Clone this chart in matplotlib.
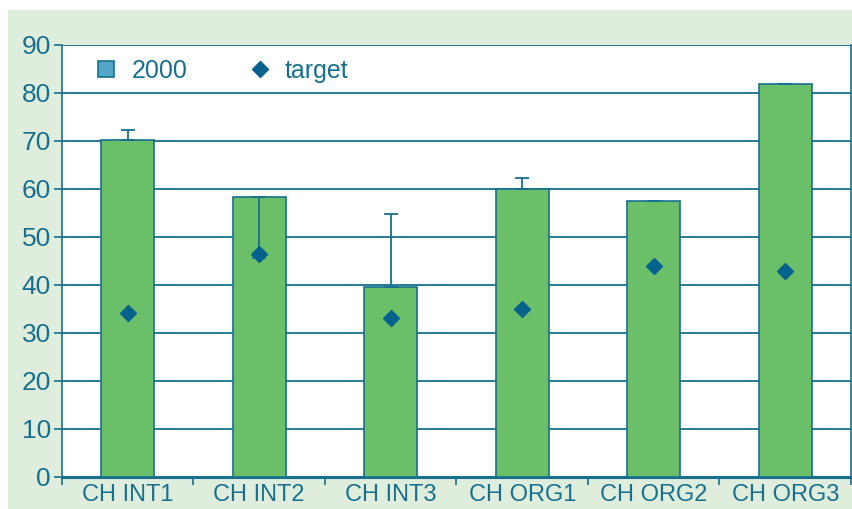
import matplotlib
matplotlib.use('Agg')
import matplotlib.pyplot as plt
import matplotlib.patches as patches
from matplotlib.lines import Line2D
import numpy as np

# data
categories = ['CH INT1', 'CH INT2', 'CH INT3', 'CH ORG1', 'CH ORG2', 'CH ORG3']
values_2000 = [70.2, 58.3, 39.6, 60.0, 57.5, 81.9]
err_lower = [0, 12.7, 0, 0, 0, 0]
err_upper = [2.1, 0, 15.1, 2.3, 0, 0]
target = [34.1, 46.5, 33.1, 35.0, 44.0, 42.9]
y_ticks = [0, 10, 20, 30, 40, 50, 60, 70, 80, 90]

teal = '#17708f'
green = '#6bbf68'
legend_blue = '#55a6c6'
diamond = '#04628c'
panel = '#dfeddc'

plt.rcParams['font.family'] = ['Liberation Sans', 'DejaVu Sans']

fig = plt.figure(figsize=(8.53, 5.09), dpi=100)
fig.patch.set_facecolor('white')
# light green background panel
fig.patches.append(patches.Rectangle((8 / 853, 0), 1, 1 - 10 / 509,
                                     transform=fig.transFigure,
                                     facecolor=panel, edgecolor='none', zorder=-5))

ax = fig.add_axes([62 / 853, 32 / 509, 789 / 853, 432 / 509])
ax.set_zorder(1)
ax.set_facecolor('white')

x = np.arange(len(categories))
ax.bar(x, values_2000, width=0.4, color=green, edgecolor=teal, linewidth=1.2, zorder=3)
ax.errorbar(x, values_2000, yerr=[err_lower, err_upper], fmt='none',
            ecolor=teal, elinewidth=1.3, capsize=5, capthick=1.3, zorder=4)
ax.plot(x, target, linestyle='none', marker='D', markersize=8,
        color=diamond, zorder=5)

ax.set_xlim(-0.5, len(categories) - 0.5)
ax.set_ylim(0, 90)
ax.set_yticks(y_ticks)
ax.set_yticklabels([str(v) for v in y_ticks])
ax.yaxis.grid(True, color=teal, linewidth=1.3, zorder=1)
ax.set_axisbelow(True)

ax.set_xticks(x)
ax.set_xticklabels(categories)
ax.set_xticks(np.arange(len(categories) + 1) - 0.5, minor=True)
ax.tick_params(axis='x', which='major', length=0, pad=5, labelsize=17, labelcolor=teal)
ax.tick_params(axis='x', which='minor', length=6, width=1.2, color=teal)
ax.tick_params(axis='y', length=6, width=1.2, color=teal, labelsize=19,
               labelcolor=teal, pad=2)

for side in ['left', 'right']:
    ax.spines[side].set_color(teal)
    ax.spines[side].set_linewidth(1.2)
ax.spines['bottom'].set_color(teal)
ax.spines['bottom'].set_linewidth(2.2)
ax.spines['top'].set_visible(False)

handles = [
    Line2D([], [], linestyle='none', marker='s', markersize=12,
           markerfacecolor=legend_blue, markeredgecolor=teal, markeredgewidth=1.2),
    Line2D([], [], linestyle='none', marker='D', markersize=8, color=diamond),
]
leg = ax.legend(handles, ['2000', 'target'], ncol=2, loc='upper left',
                bbox_to_anchor=(0.012, 1.02), frameon=False, fontsize=18,
                handlelength=1.0, handletextpad=0.5, columnspacing=2.4)
for t in leg.get_texts():
    t.set_color(teal)

fig.savefig('out.png', dpi=100, facecolor=fig.get_facecolor())
